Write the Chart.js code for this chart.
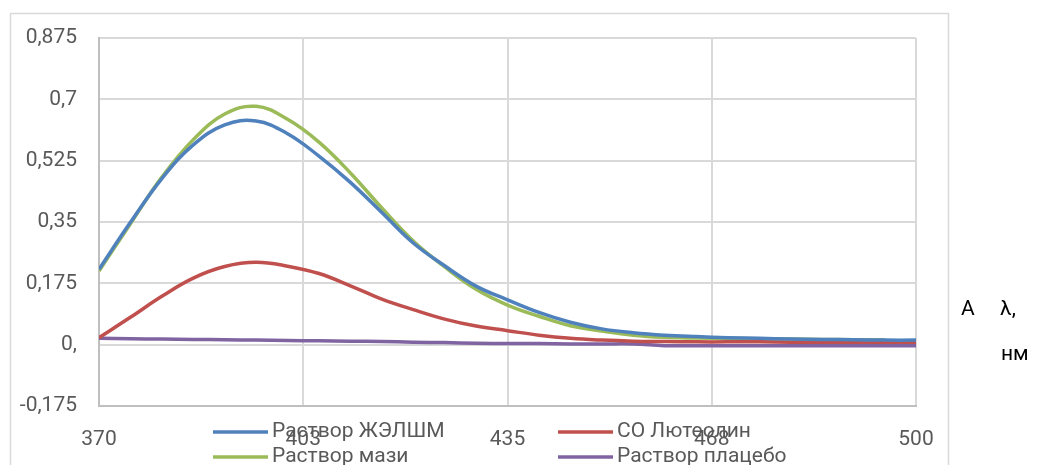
<!DOCTYPE html>
<html>
<head>
<meta charset="utf-8">
<script src="https://cdn.jsdelivr.net/npm/chart.js@4.4.1/dist/chart.umd.min.js"></script>
<style>
  html, body { margin: 0; padding: 0; background: #fff; }
  #wrap { width: 1037px; height: 465px; position: relative; }
</style>
</head>
<body>
<div id="wrap"><canvas id="spectra"></canvas></div>
<script>
// wavelength, nm
var wavelengths = [370, 375, 380, 385, 390, 395, 400, 405, 410, 415, 420, 425, 430,
  435, 440, 445, 450, 455, 460, 465, 470, 475, 480, 485, 490, 495, 500];

var zhelshm = [0.215, 0.349, 0.474, 0.570, 0.627, 0.638, 0.602, 0.538, 0.463, 0.377, 0.290, 0.225, 0.167,
  0.128, 0.092, 0.064, 0.045, 0.034, 0.027, 0.023, 0.020, 0.018, 0.016, 0.015, 0.014, 0.013, 0.013];
var luteolin = [0.020, 0.078, 0.138, 0.190, 0.223, 0.235, 0.224, 0.203, 0.168, 0.130, 0.100, 0.073, 0.053,
  0.040, 0.027, 0.018, 0.013, 0.010, 0.009, 0.008, 0.008, 0.008, 0.007, 0.007, 0.007, 0.007, 0.007];
var ointment = [0.210, 0.345, 0.478, 0.585, 0.658, 0.680, 0.643, 0.578, 0.490, 0.390, 0.296, 0.222, 0.158,
  0.113, 0.081, 0.054, 0.039, 0.027, 0.021, 0.019, 0.018, 0.017, 0.016, 0.015, 0.014, 0.014];
var placebo = [0.018, 0.017, 0.016, 0.015, 0.014, 0.013, 0.012, 0.011, 0.010, 0.009, 0.007, 0.006, 0.004,
  0.003, 0.003, 0.002, 0.002, 0.002, -0.003, -0.003, -0.003, -0.003, -0.003, -0.003, -0.003, -0.003, -0.003];

var seriesNames = ["Раствор ЖЭЛШМ", "СО Лютеолин", "Раствор мази", "Раствор плацебо"];
var seriesColors = ["#4f81bd", "#c0504d", "#9bbb59", "#8064a2"];
var yTickLabels = ["-0,175", "0,", "0,175", "0,35", "0,525", "0,7", "0,875"];

var FONT = "Roboto";
var TEXT_GRAY = "#595959";

function points(values) {
  return values.map(function (v, i) { return { x: wavelengths[i], y: v }; });
}

var allSeries = [zhelshm, luteolin, ointment, placebo];
var datasets = allSeries.map(function (vals, i) {
  return {
    label: seriesNames[i],
    data: points(vals),
    borderColor: seriesColors[i],
    backgroundColor: seriesColors[i],
    borderWidth: 3.5,
    pointRadius: 0,
    tension: 0.4,
    fill: false
  };
});

// white page with a thin frame round the chart
var framePlugin = {
  id: "frame",
  beforeDraw: function (chart) {
    var ctx = chart.ctx;
    ctx.save();
    ctx.fillStyle = "#fff";
    ctx.fillRect(0, 0, chart.width, chart.height);
    ctx.strokeStyle = "#d9d9d9";
    ctx.lineWidth = 1.5;
    ctx.strokeRect(10.5, 13.5, 938, 470);
    ctx.restore();
  }
};

// legend in two columns under the axis, plus the axis captions on the right
var legendPlugin = {
  id: "bottomLegend",
  afterDraw: function (chart) {
    var ctx = chart.ctx;
    var cols = [213, 558];
    var rows = [432, 457];
    ctx.save();
    ctx.font = "21px " + FONT;
    ctx.textBaseline = "middle";
    chart.data.datasets.forEach(function (ds, i) {
      var x = cols[i % 2];
      var y = rows[Math.floor(i / 2)];
      ctx.strokeStyle = ds.borderColor;
      ctx.lineWidth = 3.5;
      ctx.beginPath();
      ctx.moveTo(x, y);
      ctx.lineTo(x + 55, y);
      ctx.stroke();
      ctx.fillStyle = TEXT_GRAY;
      ctx.textAlign = "left";
      ctx.fillText(ds.label, x + 59, y);
    });

    ctx.fillStyle = "#000";
    ctx.font = "21px " + FONT;
    ctx.fillText("A", 961, 310);
    ctx.fillText("λ,", 1000, 310);
    ctx.fillText("нм", 1001, 355);
    ctx.restore();
  }
};

new Chart(document.getElementById("spectra"), {
  type: "line",
  data: { datasets: datasets },
  options: {
    responsive: true,
    maintainAspectRatio: false,
    animation: false,
    layout: { padding: { left: 0, top: 38, right: 121, bottom: 0 } },
    plugins: {
      legend: { display: false },
      tooltip: { enabled: false }
    },
    scales: {
      x: {
        type: "linear",
        min: 370,
        max: 500,
        afterFit: function (scale) { scale.height = 59; },
        ticks: {
          stepSize: 32.5,
          padding: 21,
          color: TEXT_GRAY,
          font: { family: FONT, size: 21 },
          maxRotation: 0,
          callback: function (v) { return Math.round(v); }
        },
        grid: { color: "#d9d9d9", lineWidth: 2, drawTicks: false },
        border: { color: "#bfbfbf", width: 2 }
      },
      y: {
        min: -0.175,
        max: 0.875,
        afterFit: function (scale) { scale.width = 99; },
        ticks: {
          stepSize: 0.175,
          padding: 22,
          color: TEXT_GRAY,
          font: { family: FONT, size: 21 },
          callback: function (v, i) { return yTickLabels[i]; }
        },
        grid: { color: "#d9d9d9", lineWidth: 2, drawTicks: false },
        border: { color: "#bfbfbf", width: 2 }
      }
    }
  },
  plugins: [framePlugin, legendPlugin]
});
</script>
</body>
</html>
